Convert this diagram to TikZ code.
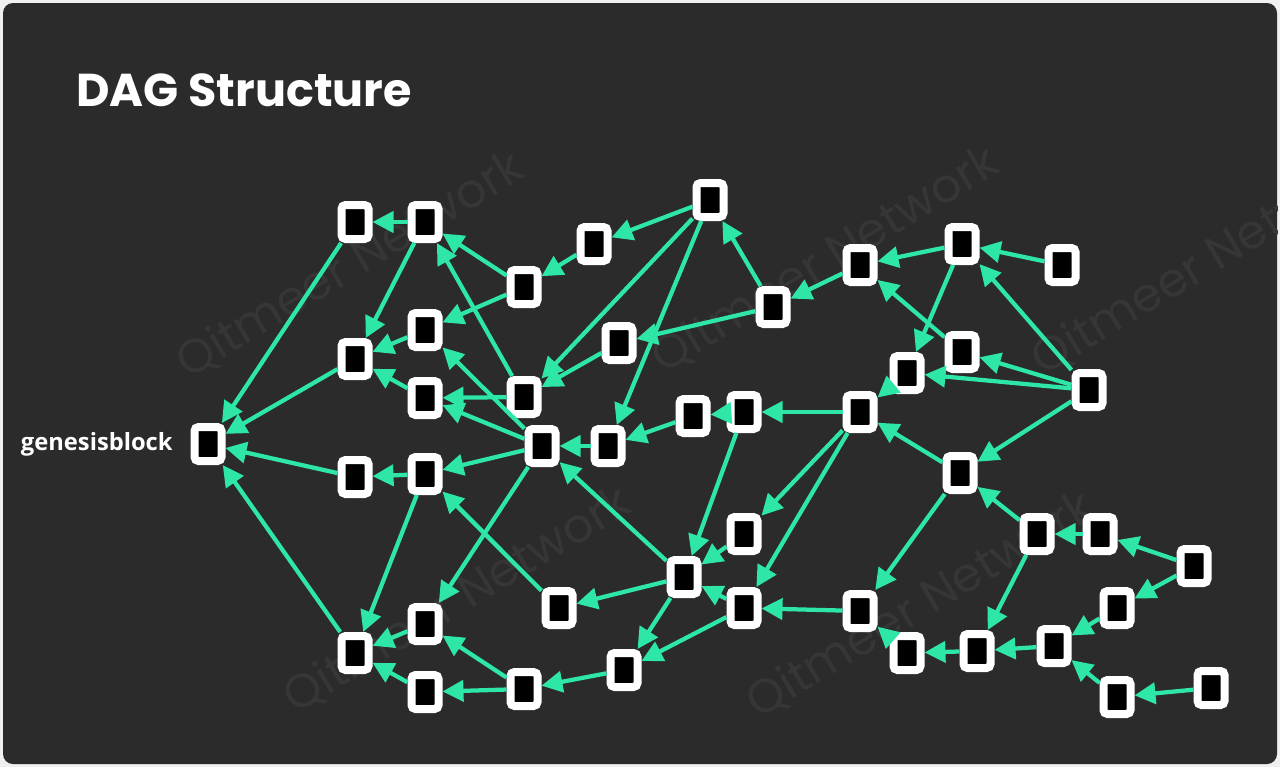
\documentclass[tikz,border=0pt]{standalone}
\usepackage{fontspec}
\setmainfont{Poppins}
\newfontfamily\labelfont{Open Sans}
\usetikzlibrary{arrows.meta}
\definecolor{cardbg}{HTML}{2B2B2B}
\definecolor{linkgreen}{HTML}{2EE6A6}
\definecolor{wmgray}{HTML}{363636}

\begin{document}
\begin{tikzpicture}
[
    x=0.2mm, y=-0.2mm,
    blk/.style={draw=white, fill=black, line width=1.6mm, rounded corners=0.8mm,
        minimum width=5.4mm, minimum height=6.8mm, inner sep=0pt},
    link/.style={draw=linkgreen, line width=0.85mm, -{Triangle[length=4.2mm,width=4.2mm]}},
    wmark/.style={text=wmgray, font=\fontsize{27}{30}\selectfont, rotate=31},
]
\fill[white!94!black] (0,0) rectangle (1280,767);
\fill[cardbg, rounded corners=2mm] (3,3) rectangle (1277,764);
\begin{scope}
\clip[rounded corners=2mm] (3,3) rectangle (1277,764);
\node[wmark] (wm1) at (350,265) {Qitmeer Network};
\node[wmark] (wm2) at (457,600) {Qitmeer Network};
\node[wmark] (wm3) at (825,260) {Qitmeer Network};
\node[wmark] (wm4) at (1205,262) {Qitmeer Network};
\node[wmark] (wm5) at (920,605) {Qitmeer Network};
\end{scope}

\node[anchor=base west, inner sep=0pt, text=white, font=\bfseries\fontsize{26.2}{30}\selectfont]
    (title) at (76,106) {DAG Structure};

\node[blk] (G) at (208,444) {};
\node[anchor=east, inner sep=0pt, text=white, font=\labelfont\bfseries\fontsize{13.5}{16}\selectfont]
    (glabel) at (173,444) {genesisblock};

\node[blk] (A1) at (355,222) {};
\node[blk] (A2) at (425,222) {};
\node[blk] (B1) at (355,359) {};
\node[blk] (B2) at (425,330) {};
\node[blk] (B3) at (425,398) {};
\node[blk] (C1) at (355,477) {};
\node[blk] (C2) at (425,474) {};
\node[blk] (D1) at (355,653) {};
\node[blk] (D2) at (425,624) {};
\node[blk] (D3) at (425,692) {};
\node[blk] (E1) at (524,287) {};
\node[blk] (E2) at (594,244) {};
\node[blk] (E3) at (524,397) {};
\node[blk] (F1) at (710,200) {};
\node[blk] (F2) at (619,343) {};
\node[blk] (H1) at (542,446) {};
\node[blk] (H2) at (608,446) {};
\node[blk] (I1) at (693,416) {};
\node[blk] (I2) at (744,412) {};
\node[blk] (J1) at (773,307) {};
\node[blk] (K1) at (860,265) {};
\node[blk] (K2) at (962,244) {};
\node[blk] (K3) at (1062,265) {};
\node[blk] (L1) at (962,352) {};
\node[blk] (L2) at (907,373) {};
\node[blk] (L3) at (1089,390) {};
\node[blk] (M1) at (860,412) {};
\node[blk] (M2) at (960,473) {};
\node[blk] (N1) at (744,534) {};
\node[blk] (N2) at (684,577) {};
\node[blk] (N3) at (744,608) {};
\node[blk] (O1) at (559,608) {};
\node[blk] (P1) at (624,670) {};
\node[blk] (P2) at (524,689) {};
\node[blk] (Q1) at (860,611) {};
\node[blk] (Q2) at (907,653) {};
\node[blk] (Q3) at (977,651) {};
\node[blk] (R1) at (1037,534) {};
\node[blk] (R2) at (1100,534) {};
\node[blk] (R3) at (1194,566) {};
\node[blk] (S1) at (1117,608) {};
\node[blk] (S2) at (1054,646) {};
\node[blk] (T1) at (1117,697) {};
\node[blk] (T2) at (1211,688) {};

\foreach \src/\dst in {A2/A1, A1/G, A2/B1, B2/B1, B3/B1, B1/G, C1/G, C2/C1, D1/G,
    E1/A2, E3/A2, E1/B2, H1/B2, E3/B3, H1/B3, H1/C2, O1/C2, C2/D1, H1/D2,
    D2/D1, D3/D1, P2/D2, P2/D3, F1/E2, E2/E1, F1/E3, F1/H2, J1/F1, J1/F2,
    F2/E3, I2/I1, M1/I2, I1/H2, H2/H1, I2/N2, M1/N1, M1/N3, N1/N2, N3/N2,
    Q1/N3, N2/O1, N2/H1, N2/P1, N3/P1, P1/P2, K2/K1, K1/J1, K3/K2, L3/K2,
    K2/L2, L1/K1, L2/M1, L3/L1, L3/L2, L3/M2, M2/M1, M2/Q1, R1/M2, R2/R1,
    R3/R2, R3/S1, S1/S2, R1/Q3, S2/Q3, Q3/Q2, Q2/Q1, T1/S2, T2/T1}
    \draw[link] (\src) -- (\dst);
\end{tikzpicture}
\end{document}
